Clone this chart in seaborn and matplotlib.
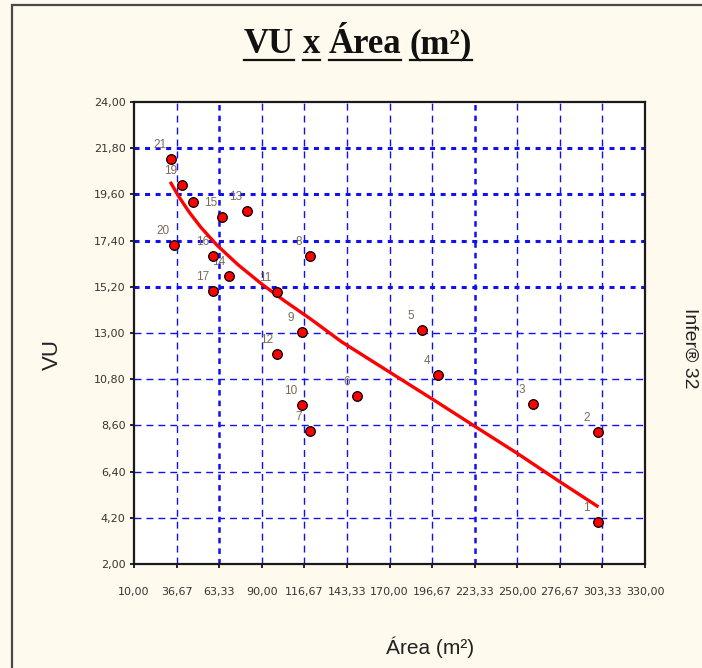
import matplotlib
matplotlib.use("Agg")
import matplotlib.pyplot as plt
import seaborn as sns
import pandas as pd
from matplotlib.patches import Rectangle
from matplotlib.lines import Line2D

# ---------------- data ----------------
point_ids = [1, 2, 3, 4, 5, 6, 7, 8, 9, 10, 11, 12, 13, 14, 15, 16, 17, 18, 19, 20, 21]
area = [300.3, 300.3, 260.0, 200.1, 190.5, 149.8, 120.2, 120.2, 115.0, 115.0, 99.3,
        99.7, 80.5, 69.6, 65.1, 59.6, 59.6, 46.7, 39.9, 35.0, 33.0]
vu = [4.01, 8.30, 9.62, 11.01, 13.12, 9.99, 8.32, 16.67, 13.07, 9.57, 14.95,
      12.01, 18.81, 15.71, 18.53, 16.67, 15.00, 19.24, 20.04, 17.21, 21.27]
hidden_labels = [18]

curve_area = [33.2, 38.0, 45.0, 52.0, 62.0, 75.0, 90.0, 105.0, 120.0, 140.0,
              160.0, 180.0, 200.0, 225.0, 250.0, 275.0, 300.0]
curve_vu = [20.13, 19.50, 18.71, 18.02, 17.18, 16.26, 15.33, 14.49, 13.70, 12.58,
            11.62, 10.66, 9.70, 8.48, 7.27, 6.00, 4.76]

x_ticks = [10.0, 36.67, 63.33, 90.0, 116.67, 143.33, 170.0, 196.67, 223.33,
           250.0, 276.67, 303.33, 330.0]
x_tick_labels = ["10,00", "36,67", "63,33", "90,00", "116,67", "143,33", "170,00",
                 "196,67", "223,33", "250,00", "276,67", "303,33", "330,00"]
y_ticks = [2.0, 4.2, 6.4, 8.6, 10.8, 13.0, 15.2, 17.4, 19.6, 21.8, 24.0]
y_tick_labels = ["2,00", "4,20", "6,40", "8,60", "10,80", "13,00", "15,20",
                 "17,40", "19,60", "21,80", "24,00"]

title_words = ["VU", "x", "Área", "(m²)"]
x_label = "Área (m²)"
y_label = "VU"
side_text = "Infer® 32"

# ---------------- figure ----------------
plt.rcParams["lines.scale_dashes"] = False
W, H = 702, 668
fig = plt.figure(figsize=(W / 100, H / 100), dpi=100, facecolor="#FFF9EE")

# outer frame
fig.add_artist(Rectangle((12 / W, -0.2), 1.5, (1 - 5 / H) + 0.2, transform=fig.transFigure,
                         fill=False, ec="#4a4a4a", lw=1.6))

ax = fig.add_axes([134 / W, 1 - 564 / H, (645 - 134) / W, (564 - 102) / H])
ax.set_facecolor("white")
ax.set_xlim(x_ticks[0], x_ticks[-1])
ax.set_ylim(y_ticks[0], y_ticks[-1])

grid_blue = "#1010F0"
for v in y_ticks[1:-1]:
    if v >= 15.2:
        ax.axhline(v, color=grid_blue, lw=2.2, dashes=(3.6, 4.0), zorder=1)
    else:
        ax.axhline(v, color=grid_blue, lw=1.0, dashes=(5.0, 3.6), zorder=1)
for v in x_ticks[1:-1]:
    if v in (63.33, 223.33):
        ax.axvline(v, color=grid_blue, lw=1.8, dashes=(4.0, 3.6), zorder=1)
    else:
        ax.axvline(v, color=grid_blue, lw=1.0, dashes=(5.0, 3.6), zorder=1)

df = pd.DataFrame({"id": point_ids, "area": area, "vu": vu})
curve = pd.DataFrame({"area": curve_area, "vu": curve_vu})

sns.lineplot(data=curve, x="area", y="vu", color="#FF0000", lw=2.4, sort=False,
             estimator=None, ax=ax, zorder=4)
sns.scatterplot(data=df, x="area", y="vu", s=48, color="#FF0000", edgecolor="black",
                linewidth=0.9, ax=ax, zorder=5, legend=False)

for pid, xa, yv in zip(point_ids, area, vu):
    if pid in hidden_labels:
        continue
    ax.annotate(str(pid), (xa, yv), xytext=(-11, 14), textcoords="offset pixels",
                ha="center", va="center", fontsize=8.5, color="#7a6a5a",
                family="Liberation Sans", zorder=3)

ax.set_xticks(x_ticks, x_tick_labels)
ax.set_yticks(y_ticks, y_tick_labels)
ax.tick_params(axis="both", direction="out", length=3, width=1.2, color="black",
               labelsize=8, labelcolor="#3a3430")
ax.tick_params(axis="x", pad=13.5)
ax.tick_params(axis="y", pad=3)
ax.set_xlabel("")
ax.set_ylabel("")
for s in ax.spines.values():
    s.set_color("#1a1a1a")
    s.set_linewidth(1.6)

# axis labels
fig.text(430 / W, 1 - 647 / H, x_label, ha="center", va="center", fontsize=15,
         family="Liberation Sans", color="#222222")
fig.text(52 / W, 1 - 355 / H, y_label, ha="center", va="center", fontsize=16,
         rotation=90, family="Liberation Sans", color="#222222")
fig.text(690 / W, 1 - 348 / H, side_text, ha="center", va="center", fontsize=14,
         rotation=-90, family="Liberation Sans", color="#222222")

# underlined bold serif title, word by word
renderer = fig.canvas.get_renderer()
fs = 25
tobjs = []
widths = []
for w in title_words:
    t = fig.text(0, 0, w, fontsize=fs, fontweight="bold", family="Liberation Serif",
                 ha="left", va="baseline", color="#111111")
    tobjs.append(t)
    widths.append(t.get_window_extent(renderer).width)
space = 0.25 * fs * 100 / 72
total = sum(widths) + space * (len(widths) - 1)
x0 = 358 - total / 2
base_y = 53
ul_y = 59.5
for t, wpx in zip(tobjs, widths):
    t.set_position((x0 / W, 1 - base_y / H))
    fig.add_artist(Line2D([x0 / W, (x0 + wpx) / W], [1 - ul_y / H, 1 - ul_y / H],
                          transform=fig.transFigure, color="#111111", lw=1.6))
    x0 += wpx + space

fig.savefig("out.png", dpi=100, facecolor=fig.get_facecolor())
